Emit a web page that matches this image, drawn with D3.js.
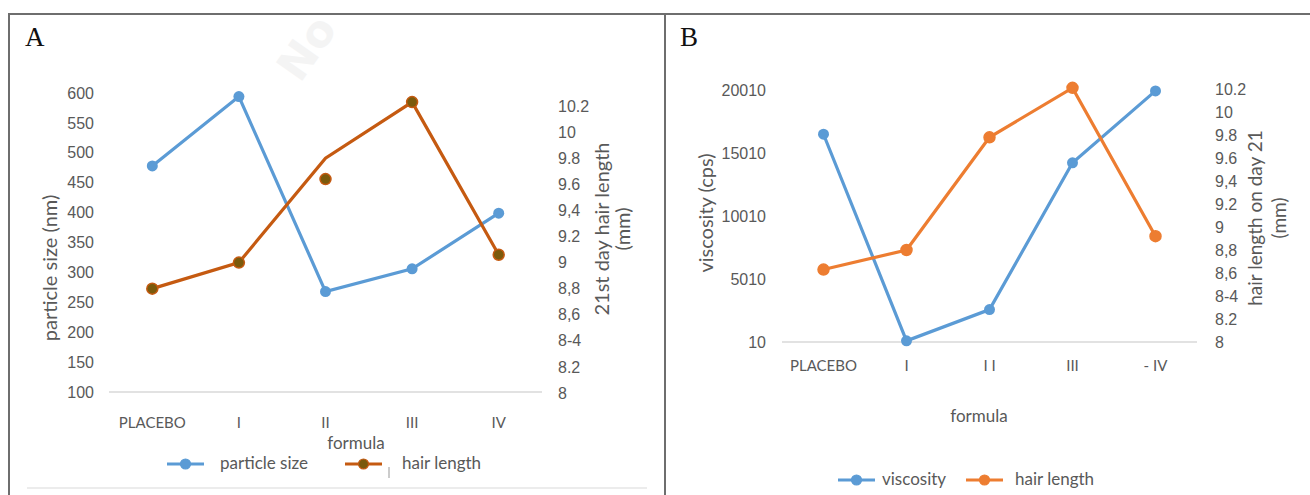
<!DOCTYPE html>
<html>
<head>
<meta charset="utf-8">
<script src="https://cdn.jsdelivr.net/npm/d3@7"></script>
<style>
  body { margin: 0; background: #fff; }
  svg { display: block; font-family: Lato, "Open Sans", sans-serif; }
  .tick text { fill: #595959; font-size: 16px; }
</style>
</head>
<body>
<svg id="chart" width="1310" height="495"></svg>
<script>
// categories and values
var formulasA = ["PLACEBO", "I", "II", "III", "IV"];
var formulasB = ["PLACEBO", "I", "I I", "III", "- IV"];
var particleSize = [478, 594, 268, 306, 399];
var hairLengthA = [8.8, 9.0, 9.8, 10.23, 9.06];
var hairDotsA = [8.8, 9.0, 9.64, 10.23, 9.06];   // the II marker sits off the line
var viscosity = [16500, 100, 2580, 14235, 19940];
var hairLengthB = [8.63, 8.8, 9.78, 10.21, 8.92];

var particleTicks = [100, 150, 200, 250, 300, 350, 400, 450, 500, 550, 600];
var viscTicks = [10, 5010, 10010, 15010, 20010];
var hairTicks = [8, 8.2, 8.4, 8.6, 8.8, 9, 9.2, 9.4, 9.6, 9.8, 10, 10.2];
var hairTickLabels = ["8", "8.2", "8-4", "8,6", "8,8", "9", "9.2", "9,4", "9.6", "9.8", "10", "10.2"];

var blue = "#5b9bd5", brown = "#c55a11", olive = "#7b5a0c", orange = "#ed7d31";
var grey = "#595959";

var svg = d3.select("#chart");

// faint watermark
svg.append("text").attr("transform", "translate(300,84) rotate(-55)")
    .attr("font-size", 44).attr("font-family", "DejaVu Sans").attr("font-weight", "bold")
    .attr("fill", "#f4f4f4").text("No");

// frame of the figure
svg.append("line").attr("x1", 8).attr("x2", 1310).attr("y1", 14).attr("y2", 14)
    .attr("stroke", "#6e6e6e").attr("stroke-width", 2);
svg.append("line").attr("x1", 9).attr("x2", 9).attr("y1", 14).attr("y2", 495)
    .attr("stroke", "#6e6e6e").attr("stroke-width", 2);
svg.append("line").attr("x1", 665).attr("x2", 665).attr("y1", 14).attr("y2", 495)
    .attr("stroke", "#6e6e6e").attr("stroke-width", 2);
svg.append("line").attr("x1", 27).attr("x2", 647).attr("y1", 488).attr("y2", 488)
    .attr("stroke", "#e6e6e6").attr("stroke-width", 1.5);

svg.append("text").attr("x", 25).attr("y", 46).attr("font-family", "Liberation Serif")
    .attr("font-size", 27).attr("fill", "#111").text("A");
svg.append("text").attr("x", 680).attr("y", 46).attr("font-family", "Liberation Serif")
    .attr("font-size", 27).attr("fill", "#111").text("B");

function drawPanel(p) {
    var g = svg.append("g");
    var x = d3.scalePoint().domain(p.cats).range(p.xr).padding(0.5);
    var yL = d3.scaleLinear().domain(p.leftDomain).range(p.leftRange);
    var yR = d3.scaleLinear().domain([8, 10.2]).range(p.rightRange);

    // baseline
    g.append("line").attr("x1", p.xr[0]).attr("x2", p.xr[1])
        .attr("y1", p.leftRange[0]).attr("y2", p.leftRange[0])
        .attr("stroke", "#d9d9d9").attr("stroke-width", 1.5);

    var ax = g.append("g").attr("transform", "translate(" + p.leftX + ",0)")
        .call(d3.axisLeft(yL).tickValues(p.leftTicks).tickSize(0).tickPadding(0)
            .tickFormat(d3.format("d")));
    ax.select(".domain").remove();

    var ar = g.append("g").attr("transform", "translate(" + p.rightX + ",0)")
        .call(d3.axisRight(yR).tickValues(hairTicks).tickSize(0).tickPadding(0)
            .tickFormat(function(d, i) { return hairTickLabels[i]; }));
    ar.select(".domain").remove();

    // category labels
    g.selectAll(".cat").data(p.cats).enter().append("text")
        .attr("x", function(d) { return x(d); }).attr("y", p.catY)
        .attr("text-anchor", "middle").attr("font-size", 15).attr("fill", grey)
        .text(function(d) { return d; });

    g.append("text").attr("x", p.formulaX).attr("y", p.formulaY).attr("text-anchor", "middle")
        .attr("font-size", 17).attr("fill", grey).text("formula");

    g.append("text").attr("transform", "translate(" + p.leftTitleX + "," + p.leftTitleY + ") rotate(-90)")
        .attr("text-anchor", "middle").attr("font-size", 20).attr("fill", grey).text(p.leftTitle);
    p.rightTitle.forEach(function(t, i) {
        g.append("text")
            .attr("transform", "translate(" + (p.rightTitleX + i * p.rightTitleGap) + "," + p.rightTitleY + ") rotate(-90)")
            .attr("text-anchor", "middle").attr("font-size", p.rightTitleSize).attr("fill", grey).text(t);
    });

    var line = d3.line().x(function(d, i) { return x(p.cats[i]); });

    // series on the left axis
    g.append("path").datum(p.leftValues)
        .attr("d", line.y(function(d) { return yL(d); }))
        .attr("fill", "none").attr("stroke", p.leftColor).attr("stroke-width", 3.2);
    g.selectAll(".dl").data(p.leftValues).enter().append("circle")
        .attr("cx", function(d, i) { return x(p.cats[i]); })
        .attr("cy", function(d) { return yL(d); })
        .attr("r", 5.5).attr("fill", p.leftColor);

    // series on the right axis
    g.append("path").datum(p.rightValues)
        .attr("d", line.y(function(d) { return yR(d); }))
        .attr("fill", "none").attr("stroke", p.rightColor).attr("stroke-width", 3.2);
    g.selectAll(".dr").data(p.rightDots).enter().append("circle")
        .attr("cx", function(d, i) { return x(p.cats[i]); })
        .attr("cy", function(d) { return yR(d); })
        .attr("r", 5.5).attr("fill", p.rightDotFill)
        .attr("stroke", p.rightColor).attr("stroke-width", 1.5);

    // legend
    p.legend.forEach(function(l) {
        g.append("line").attr("x1", l.x).attr("x2", l.x + 37).attr("y1", p.legendY).attr("y2", p.legendY)
            .attr("stroke", l.color).attr("stroke-width", 3.2);
        g.append("circle").attr("cx", l.x + 18.5).attr("cy", p.legendY).attr("r", 5)
            .attr("fill", l.dot).attr("stroke", l.color).attr("stroke-width", 1.2);
        g.append("text").attr("x", l.tx).attr("y", p.legendY + 5).attr("font-size", 17)
            .attr("fill", grey).text(l.label);
    });
}

drawPanel({
    cats: formulasA, xr: [109, 542],
    leftDomain: [100, 600], leftRange: [392, 93], leftTicks: particleTicks,
    rightRange: [393, 106],
    leftX: 94, rightX: 558,
    catY: 428, formulaX: 356, formulaY: 449,
    leftTitle: "particle size (nm)", leftTitleX: 57, leftTitleY: 268,
    rightTitle: ["21st day hair length", "(mm)"], rightTitleX: 609, rightTitleY: 229,
    rightTitleGap: 21, rightTitleSize: 20,
    leftValues: particleSize, leftColor: blue,
    rightValues: hairLengthA, rightDots: hairDotsA, rightColor: brown, rightDotFill: olive,
    legendY: 464,
    legend: [
        { x: 167, tx: 220, color: blue, dot: blue, label: "particle size" },
        { x: 345, tx: 402, color: brown, dot: olive, label: "hair length" }
    ]
});
// stray tick next to the hair length legend entry in panel A
svg.append("line").attr("x1", 389).attr("x2", 389).attr("y1", 467).attr("y2", 478)
    .attr("stroke", "#999").attr("stroke-width", 1);

drawPanel({
    cats: formulasB, xr: [782, 1197],
    leftDomain: [10, 20010], leftRange: [342, 90], leftTicks: viscTicks,
    rightRange: [342, 89],
    leftX: 766, rightX: 1215,
    catY: 371, formulaX: 979, formulaY: 422,
    leftTitle: "viscosity (cps)", leftTitleX: 713, leftTitleY: 213,
    rightTitle: ["hair length on day 21", "(mm)"], rightTitleX: 1262, rightTitleY: 218,
    rightTitleGap: 24, rightTitleSize: 19,
    leftValues: viscosity, leftColor: blue,
    rightValues: hairLengthB, rightDots: hairLengthB, rightColor: orange, rightDotFill: orange,
    legendY: 480,
    legend: [
        { x: 838, tx: 882, color: blue, dot: blue, label: "viscosity" },
        { x: 966, tx: 1015, color: orange, dot: orange, label: "hair length" }
    ]
});
</script>
</body>
</html>
